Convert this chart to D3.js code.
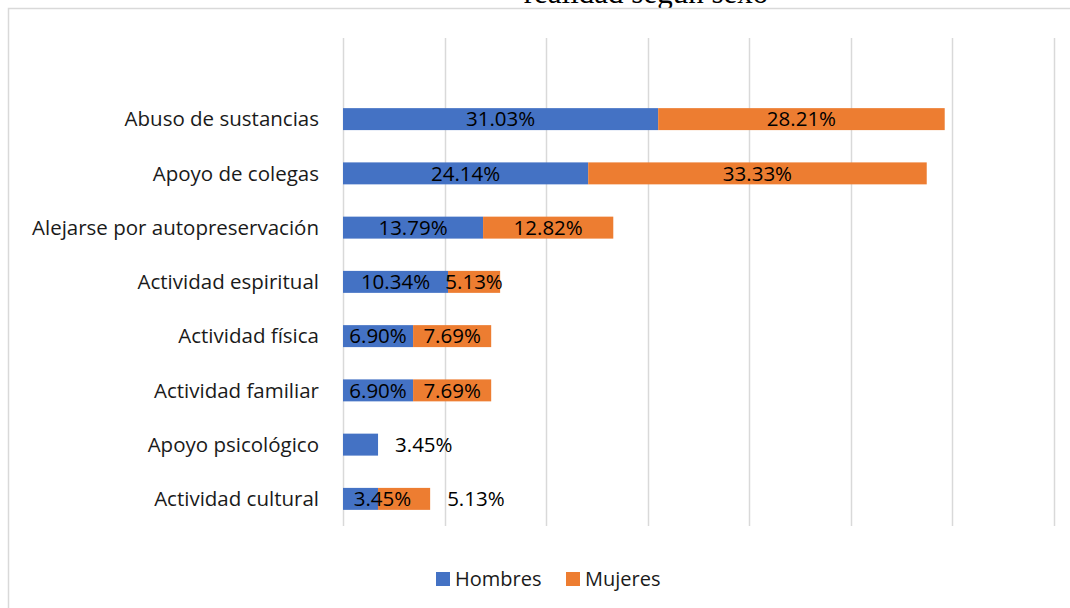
<!DOCTYPE html>
<html>
<head>
<meta charset="utf-8">
<script src="https://cdn.jsdelivr.net/npm/d3@7"></script>
<style>
  html, body { margin: 0; padding: 0; background: #fff; }
  svg { display: block; }
</style>
</head>
<body>
<svg id="chart" width="1070" height="608"></svg>
<script>
// Categories from top to bottom
const categories = [
  "Abuso de sustancias",
  "Apoyo de colegas",
  "Alejarse por autopreservación",
  "Actividad espiritual",
  "Actividad física",
  "Actividad familiar",
  "Apoyo psicológico",
  "Actividad cultural"
];
// Percentages per sex (0 = no response in that group)
const hombres = [31.03, 24.14, 13.79, 10.34, 6.90, 6.90, 3.45, 3.45];
const mujeres = [28.21, 33.33, 12.82, 5.13, 7.69, 7.69, 0, 5.13];
const seriesNames = ["Hombres", "Mujeres"];
const seriesColors = ["#4472C4", "#ED7D31"];
const gridTicks = [0, 10, 20, 30, 40, 50, 60, 70];
const titleText = "realidad según sexo";
// Labels written after the end of the bar instead of inside their segment
const outsideLabels = [
  { cat: "Apoyo psicológico", series: "Hombres" },
  { cat: "Actividad cultural", series: "Mujeres" }
];

const svg = d3.select("#chart");
const font = "'Open Sans', 'Noto Sans', sans-serif";
const labelSize = "20.5px";

// Document title line, partly above the page edge
svg.append("text")
  .attr("x", 646).attr("y", 3)
  .attr("text-anchor", "middle")
  .style("font-family", "'Liberation Serif', 'DejaVu Serif', serif")
  .style("font-size", "31px")
  .attr("fill", "#000")
  .text(titleText);

// Chart frame
svg.append("rect")
  .attr("x", 8.5).attr("y", 8.5)
  .attr("width", 1100).attr("height", 700)
  .attr("fill", "#fff")
  .attr("stroke", "#d9d9d9")
  .attr("stroke-width", 1.5);

const x = d3.scaleLinear().domain([0, 70]).range([343, 1054]);
const y = d3.scaleBand().domain(categories).range([92, 526])
  .paddingInner(0.595).paddingOuter(0.2975);

// Vertical gridlines
svg.append("g").selectAll("line")
  .data(gridTicks)
  .join("line")
  .attr("x1", d => Math.round(x(d)) + 0.5)
  .attr("x2", d => Math.round(x(d)) + 0.5)
  .attr("y1", 38).attr("y2", 526)
  .attr("stroke", "#d9d9d9")
  .attr("stroke-width", 1.5);

// Category axis labels
svg.append("g").selectAll("text")
  .data(categories)
  .join("text")
  .attr("x", 319)
  .attr("y", d => y(d) + y.bandwidth() / 2)
  .attr("dy", "0.35em")
  .attr("text-anchor", "end")
  .style("font-family", font)
  .style("font-size", labelSize)
  .attr("fill", "#1a1a1a")
  .text(d => d);

// Stacked segments
const rows = categories.map((c, i) => ({ cat: c, Hombres: hombres[i], Mujeres: mujeres[i] }));
const stack = d3.stack().keys(seriesNames)(rows);

const layers = svg.append("g").selectAll("g")
  .data(stack)
  .join("g")
  .attr("fill", (d, i) => seriesColors[i]);

layers.selectAll("rect")
  .data(d => d.filter(s => s[1] - s[0] > 0))
  .join("rect")
  .attr("x", s => x(s[0]))
  .attr("y", s => y(s.data.cat))
  .attr("width", s => x(s[1]) - x(s[0]))
  .attr("height", y.bandwidth());

// Value labels
const labels = [];
stack.forEach((layer, li) => {
  const key = seriesNames[li];
  layer.forEach(s => {
    const v = s[1] - s[0];
    if (v <= 0) return;
    const cat = s.data.cat;
    const outside = outsideLabels.some(o => o.cat === cat && o.series === key);
    const rowOutside = outsideLabels.some(o => o.cat === cat);
    let px, anchor = "middle";
    if (outside) {
      px = x(s[1]) + 17; anchor = "start";
    } else if (rowOutside && x(s[1]) - x(s[0]) < 45) {
      // short segment next to an outside label: nudge right so it stays readable
      px = (x(s[0]) + x(s[1])) / 2 + 22;
    } else {
      px = (x(s[0]) + x(s[1])) / 2;
    }
    labels.push({ px, anchor, cat, text: v.toFixed(2) + "%" });
  });
});

svg.append("g").selectAll("text")
  .data(labels)
  .join("text")
  .attr("x", d => d.px)
  .attr("y", d => y(d.cat) + y.bandwidth() / 2)
  .attr("dy", "0.35em")
  .attr("text-anchor", d => d.anchor)
  .style("font-family", font)
  .style("font-size", labelSize)
  .attr("fill", "#000")
  .text(d => d.text);

// Legend
const legend = svg.append("g");
const legendX = [436, 566];
seriesNames.forEach((n, i) => {
  legend.append("rect")
    .attr("x", legendX[i]).attr("y", 572)
    .attr("width", 14).attr("height", 14)
    .attr("fill", seriesColors[i]);
  legend.append("text")
    .attr("x", legendX[i] + 19).attr("y", 579)
    .attr("dy", "0.35em")
    .style("font-family", font)
    .style("font-size", "20px")
    .attr("fill", "#1a1a1a")
    .text(n);
});
</script>
</body>
</html>
